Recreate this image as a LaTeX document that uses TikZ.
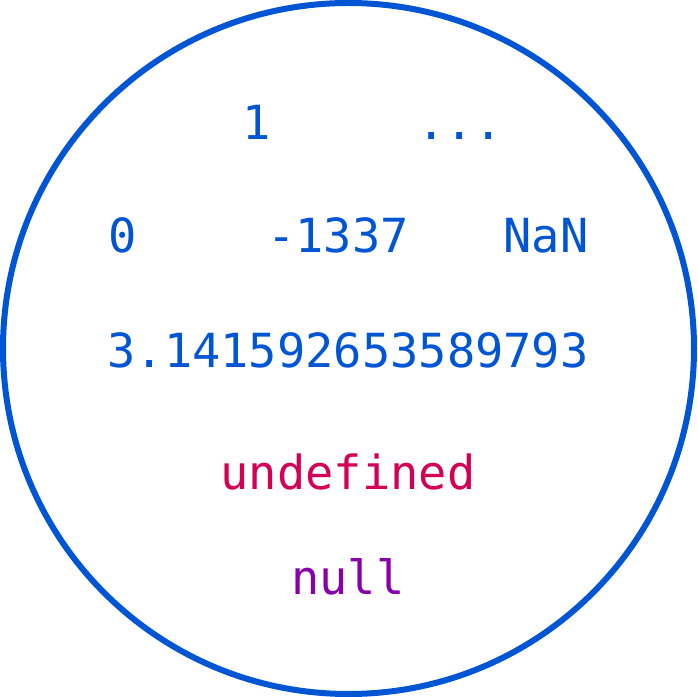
\documentclass[tikz,border=0pt]{standalone}
\usepackage{fontspec}
\setmonofont{DejaVu Sans Mono}
\definecolor{valblue}{RGB}{0,85,212}
\definecolor{undefred}{RGB}{212,0,85}
\definecolor{nullpurple}{RGB}{136,0,170}
\begin{document}
\begin{tikzpicture}[x=1pt, y=1pt,
  val/.style={anchor=base, inner sep=0pt, font=\ttfamily\fontsize{47}{47}\selectfont, text=valblue}]
\useasboundingbox (0,0) rectangle (697,697);
\draw[valblue, line width=6pt] (348.5,348.5) circle (345.5);
\node[val] (one) at (257,557){1};
\node[val] (dots) at (460,557){...};
\node[val] (zero) at (123,444){0};
\node[val] (leet) at (338,444){-1337};
\node[val] (nan) at (546,444){NaN};
\node[val] (pi) at (348,329){3.141592653589793};
\node[val, text=undefred] (undef) at (348,207){undefined};
\node[val, text=nullpurple] (null) at (348,102){null};
\end{tikzpicture}
\end{document}
